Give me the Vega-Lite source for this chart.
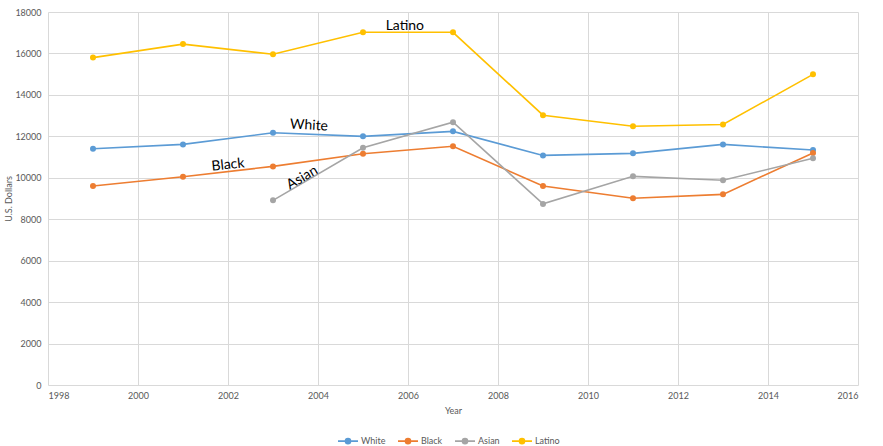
{
  "$schema": "https://vega.github.io/schema/vega-lite/v6.json",
  "autosize": {"type": "none"},
  "width": 810,
  "height": 373,
  "padding": {"left": 48, "top": 12, "right": 25, "bottom": 61},
  "background": "#ffffff",
  "config": {
    "view": {"stroke": null},
    "font": "Lato",
    "axis": {"labelFont": "Lato", "titleFont": "Lato", "labelColor": "#595959", "titleColor": "#595959", "labelFontSize": 9, "titleFontSize": 9, "titleFontWeight": "normal", "gridColor": "#D9D9D9", "gridWidth": 1, "ticks": false, "domain": false}
  },
  "datasets": {
    "series": [
      {"year": 1999, "group": "White", "dollars": 11400},
      {"year": 2001, "group": "White", "dollars": 11610},
      {"year": 2003, "group": "White", "dollars": 12170},
      {"year": 2005, "group": "White", "dollars": 12000},
      {"year": 2007, "group": "White", "dollars": 12240},
      {"year": 2009, "group": "White", "dollars": 11080},
      {"year": 2011, "group": "White", "dollars": 11180},
      {"year": 2013, "group": "White", "dollars": 11610},
      {"year": 2015, "group": "White", "dollars": 11340},
      {"year": 1999, "group": "Black", "dollars": 9600},
      {"year": 2001, "group": "Black", "dollars": 10050},
      {"year": 2003, "group": "Black", "dollars": 10550},
      {"year": 2005, "group": "Black", "dollars": 11160},
      {"year": 2007, "group": "Black", "dollars": 11520},
      {"year": 2009, "group": "Black", "dollars": 9600},
      {"year": 2011, "group": "Black", "dollars": 9010},
      {"year": 2013, "group": "Black", "dollars": 9200},
      {"year": 2015, "group": "Black", "dollars": 11200},
      {"year": 2003, "group": "Asian", "dollars": 8910},
      {"year": 2005, "group": "Asian", "dollars": 11450},
      {"year": 2007, "group": "Asian", "dollars": 12680},
      {"year": 2009, "group": "Asian", "dollars": 8740},
      {"year": 2011, "group": "Asian", "dollars": 10070},
      {"year": 2013, "group": "Asian", "dollars": 9880},
      {"year": 2015, "group": "Asian", "dollars": 10940},
      {"year": 1999, "group": "Latino", "dollars": 15800},
      {"year": 2001, "group": "Latino", "dollars": 16450},
      {"year": 2003, "group": "Latino", "dollars": 15960},
      {"year": 2005, "group": "Latino", "dollars": 17020},
      {"year": 2007, "group": "Latino", "dollars": 17020},
      {"year": 2009, "group": "Latino", "dollars": 13020},
      {"year": 2011, "group": "Latino", "dollars": 12490},
      {"year": 2013, "group": "Latino", "dollars": 12570},
      {"year": 2015, "group": "Latino", "dollars": 14990}
    ],
    "labels": [
      {"label": "Latino", "year": 2005.93, "dollars": 17330, "tilt": 0},
      {"label": "White", "year": 2003.8, "dollars": 12520, "tilt": 3},
      {"label": "Black", "year": 2002.0, "dollars": 10620, "tilt": -6},
      {"label": "Asian", "year": 2003.65, "dollars": 10000, "tilt": -30}
    ]
  },
  "layer": [
    {
      "data": {"name": "series"},
      "mark": {"type": "line", "strokeWidth": 1.6, "point": {"filled": true, "size": 36}},
      "encoding": {
        "x": {"field": "year", "type": "quantitative", "title": "Year",
          "scale": {"domain": [1998, 2016], "nice": false, "zero": false},
          "axis": {"values": [1998, 2000, 2002, 2004, 2006, 2008, 2010, 2012, 2014, 2016], "format": "d", "labelPadding": 6, "titlePadding": 6}},
        "y": {"field": "dollars", "type": "quantitative", "title": "U.S. Dollars",
          "scale": {"domain": [0, 18000], "nice": false},
          "axis": {"values": [0, 2000, 4000, 6000, 8000, 10000, 12000, 14000, 16000, 18000], "format": "d", "labelPadding": 7, "titlePadding": 1}},
        "color": {"field": "group", "type": "nominal", "title": null,
          "scale": {"domain": ["White", "Black", "Asian", "Latino"], "range": ["#5B9BD5", "#ED7D31", "#A5A5A5", "#FFC000"]},
          "legend": {"orient": "none", "direction": "horizontal", "legendX": 289, "legendY": 418,
            "symbolType": "M-1,0H1M0.25,0A0.25,0.25,0,1,1,-0.25,0A0.25,0.25,0,1,1,0.25,0",
            "symbolSize": 400, "symbolStrokeWidth": 1.6, "labelFont": "Lato", "labelFontSize": 9, "labelColor": "#595959", "labelOffset": 2, "columnPadding": 8}}
      }
    },
    {
      "data": {"name": "labels"},
      "mark": {"type": "text", "font": "Lato", "fontSize": 14, "color": "#000000", "align": "center", "baseline": "middle"},
      "encoding": {
        "x": {"field": "year", "type": "quantitative"},
        "y": {"field": "dollars", "type": "quantitative"},
        "text": {"field": "label"},
        "angle": {"field": "tilt", "type": "quantitative", "scale": null}
      }
    }
  ]
}
